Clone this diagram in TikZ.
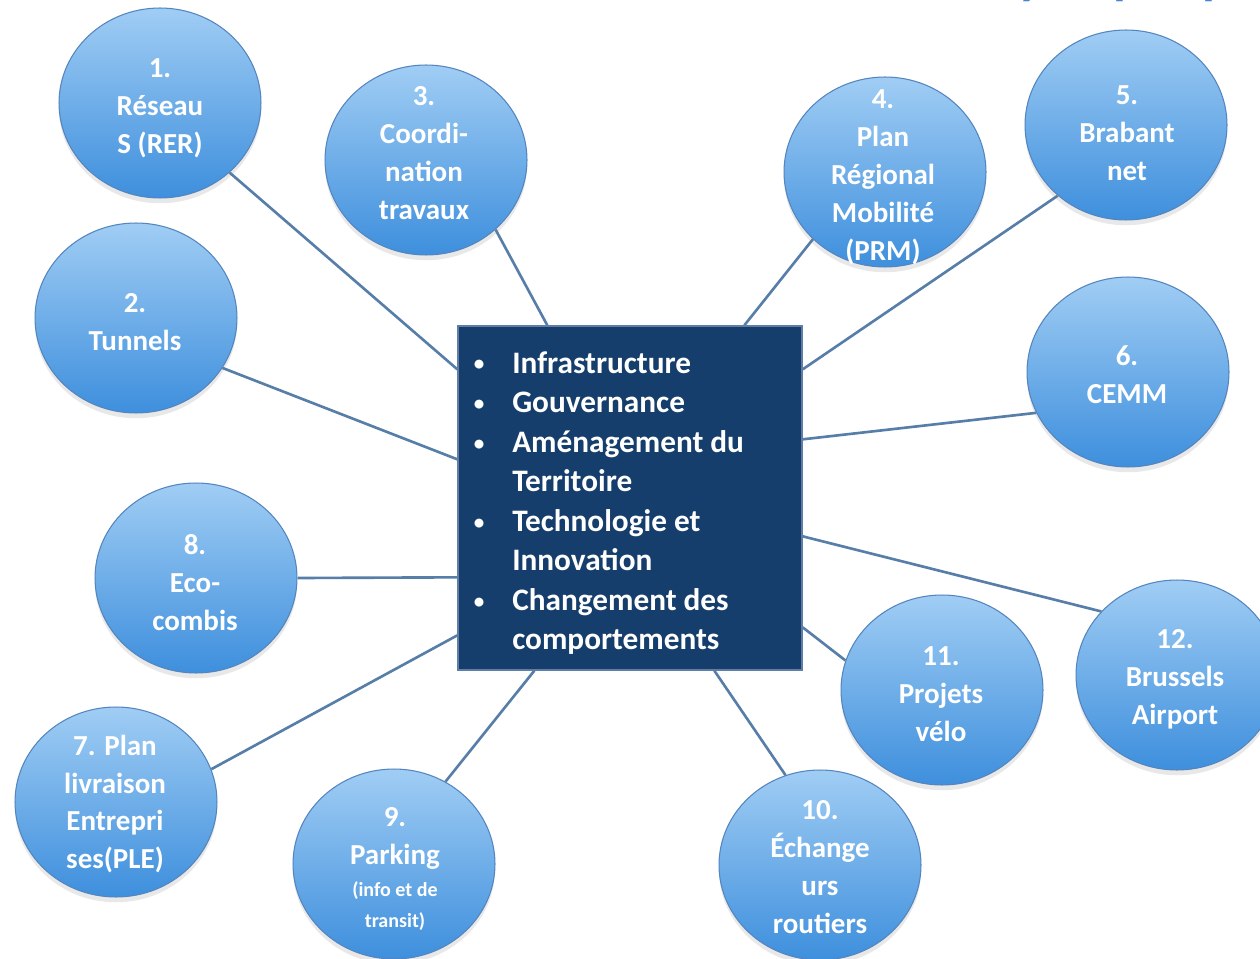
\documentclass[tikz,border=0pt]{standalone}
\usepackage{fontspec}
\setmainfont{Carlito}
\usetikzlibrary{shapes.geometric,shadows,calc,backgrounds}
\definecolor{bubtop}{RGB}{160,205,244}
\definecolor{bubbot}{RGB}{62,143,221}
\definecolor{bubedge}{RGB}{84,133,190}
\definecolor{boxfill}{RGB}{22,62,108}
\definecolor{boxedge}{RGB}{95,125,165}
\definecolor{linkc}{RGB}{86,126,168}
\definecolor{titleblue}{RGB}{72,132,214}
\newcommand{\bul}{\makebox[23.3pt][l]{\hspace*{1.5pt}\raisebox{1.2pt}{\fontsize{12pt}{12pt}\selectfont\textbullet}}}
\newcommand{\ind}{\hspace*{23.3pt}}
\begin{document}
\begin{tikzpicture}[x=0.02cm,y=-0.02cm,
  bub/.style={ellipse, draw=bubedge, line width=0.6pt, top color=bubtop, bottom color=bubbot,
    minimum width=4.04cm, minimum height=3.8cm, inner sep=0pt,
    drop shadow={opacity=0.18, shadow xshift=0pt, shadow yshift=-3pt}},
  lbl/.style={text=white, align=center, inner sep=0pt,
    font=\bfseries\fontsize{16.5pt}{21.6pt}\selectfont},
  hubbox/.style={rectangle, draw=boxedge, line width=0.8pt, fill=boxfill,
    minimum width=6.88cm, minimum height=6.88cm, inner sep=0pt},
  hubtext/.style={text=white, align=left, inner sep=0pt,
    font=\bfseries\fontsize{17.8pt}{22.5pt}\selectfont},
  link/.style={draw=linkc, line width=1.5pt},
  frag/.style={text=titleblue, inner sep=0pt, font=\bfseries\fontsize{30pt}{30pt}\selectfont}
]
\useasboundingbox (0,0) rectangle (1260,959);

% title fragments (cut off at the top edge)
\node[frag, anchor=base west] (fy) at (1018,-6) {y};
\node[frag, anchor=base west] (fp1) at (1113,-6) {p};
\node[frag, anchor=base west] (fp2) at (1202,-6) {p};

% central box
\node[hubbox] (hub) at (630,498) {};
\node[hubtext, anchor=west] (hubt) at (471,503) {%
\bul Infrastructure\\
\bul Gouvernance\\
\bul Aménagement du\\
\ind Territoire\\
\bul Technologie et\\
\ind Innovation\\
\bul Changement des\\
\ind comportements};

% bubbles
\node[bub] (c1) at (160,103) {};
\node[bub] (c2) at (136,318) {};
\node[bub] (c3) at (426,160) {};
\node[bub] (c4) at (885,172) {};
\node[bub] (c5) at (1126,125) {};
\node[bub] (c6) at (1128,372) {};
\node[bub] (c8) at (196,578) {};
\node[bub] (c7) at (116,802) {};
\node[bub] (c9) at (394,864) {};
\node[bub] (c10) at (820,865) {};
\node[bub] (c11) at (942,690) {};
\node[bub] (c12) at (1177,675) {};

% labels
\node[lbl] (t1) at (160,108) {1.\\Réseau\\S (RER)};
\node[lbl] (t2) at (135,322) {2.\\Tunnels};
\node[lbl] (t3) at (424,153) {3.\\Coordi-\\nation\\travaux};
\node[lbl] (t4) at (883,177) {4.\\Plan\\Régional\\Mobilité\\(PRM)};
\node[lbl] (t5) at (1127,133) {5.\\Brabant\\net};
\node[lbl] (t6) at (1127,375) {6.\\CEMM};
\node[lbl] (t8) at (195,583) {8.\\Eco-\\combis};
\node[lbl] (t7) at (115,804) {7. Plan\\livraison\\Entrepri\\ses(PLE)};
\node[lbl] (t9) at (395,869) {9.\\Parking\\[-3pt]{\fontsize{11.4pt}{13pt}\selectfont (info et de}\\[-4pt]{\fontsize{11.4pt}{13pt}\selectfont transit)}};
\node[lbl] (t10) at (820,867) {10.\\Échange\\urs\\routiers};
\node[lbl] (t11) at (941,694) {11.\\Projets\\vélo};
\node[lbl] (t12) at (1175,679) {12.\\Brussels\\Airport};

% background and connectors
\begin{scope}[on background layer]
\fill[white] (0,0) rectangle (1260,959);
\draw[link] (c1.-45) -- ($(hub.north west)+(0,44)$);
\draw[link] (c2.-30) -- ($(hub.north west)+(0,134)$);
\draw[link] (c3.-45) -- ($(hub.north west)+(90,0)$);
\draw[link] (c4.223) -- ($(hub.north west)+(287,0)$);
\draw[link] (c5.226) -- ($(hub.north east)+(0,44)$);
\draw[link] (c6.204) -- ($(hub.north east)+(0,114)$);
\draw[link] (c12.140) -- ($(hub.north east)+(0,211)$);
\draw[link] (c11.163) -- ($(hub.north east)+(0,302)$);
\draw[link] (c10.111) -- ($(hub.south west)+(257,0)$);
\draw[link] (c9.58) -- ($(hub.south west)+(77,0)$);
\draw[link] (c7.19) -- ($(hub.north west)+(0,310)$);
\draw[link] (c8.0) -- ($(hub.north west)+(0,252)$);
\end{scope}
\end{tikzpicture}
\end{document}
